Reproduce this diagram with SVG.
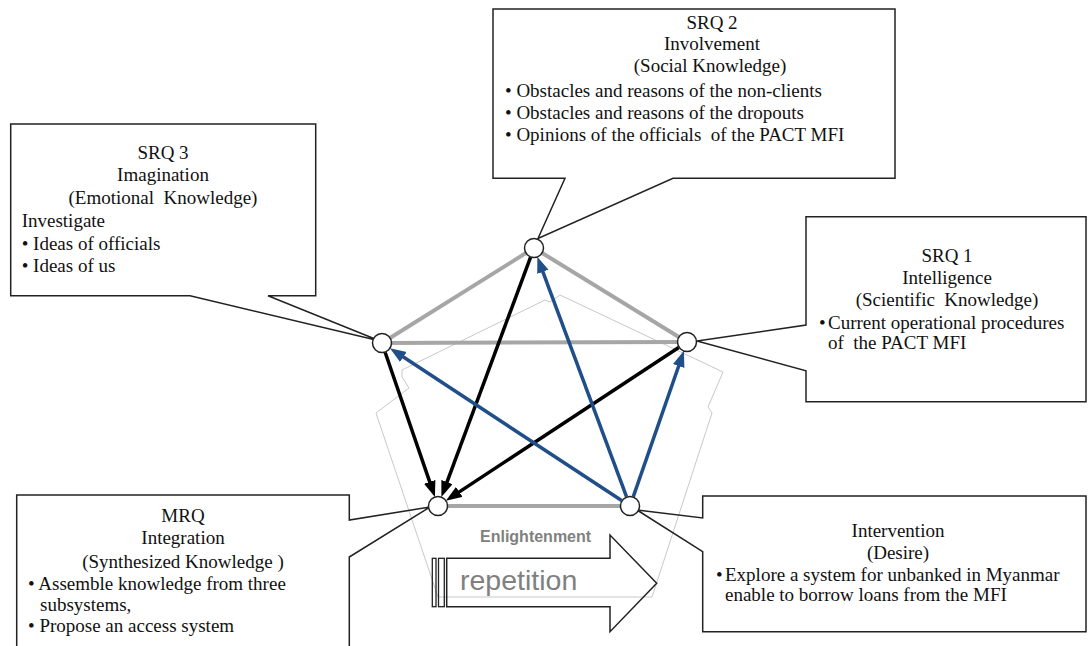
<svg xmlns="http://www.w3.org/2000/svg" width="1088" height="646" viewBox="0 0 1088 646">
<style>
.t{font-family:"Liberation Serif","Times New Roman",serif;font-size:19px;fill:#111}
.c{text-anchor:middle}
.box{fill:none;stroke:#222;stroke-width:1.5}
.gray{stroke:#a6a6a6;stroke-width:4;fill:none}
.blk{stroke:#000;stroke-width:3.5;fill:none}
.blu{stroke:#1f4e89;stroke-width:3.5;fill:none}
.node{fill:#fff;stroke:#222;stroke-width:1.5}
</style>
<defs>
<marker id="ab" markerUnits="userSpaceOnUse" markerWidth="17" markerHeight="13" refX="4" refY="6" orient="auto">
<path d="M0,0 L16,6 L0,12 Z" fill="#000"/>
</marker>
<marker id="au" markerUnits="userSpaceOnUse" markerWidth="17" markerHeight="13" refX="4" refY="6" orient="auto">
<path d="M0,0 L16,6 L0,12 Z" fill="#1f4e89"/>
</marker>
</defs>
<rect width="1088" height="646" fill="#fff"/>

<!-- faint background pentagon -->
<polygon points="545,300 550,302 560,295 723,372 708,407 712,413 652,597 438,597 376,413 409,388 402,377 402,370" fill="none" stroke="#c8c8c8" stroke-width="1"/>

<g id="connectors">
<line class="gray" x1="534" y1="248" x2="382" y2="343"/>
<line class="gray" x1="534" y1="248" x2="687" y2="342"/>
<line class="gray" x1="382" y1="343" x2="687" y2="342"/>
<line class="gray" x1="438" y1="506" x2="630" y2="506"/>
<line class="blk" x1="385.2" y1="352.5" x2="431.0" y2="485.6" marker-end="url(#ab)"/>
<line class="blk" x1="530.5" y1="257.4" x2="445.6" y2="485.8" marker-end="url(#ab)"/>
<line class="blk" x1="678.7" y1="347.5" x2="455.9" y2="494.1" marker-end="url(#ab)"/>
<line class="blu" x1="621.6" y1="500.5" x2="400.0" y2="354.8" marker-end="url(#au)"/>
<line class="blu" x1="626.5" y1="496.6" x2="541.5" y2="268.1" marker-end="url(#au)"/>
<line class="blu" x1="633.3" y1="496.6" x2="680.0" y2="362.2" marker-end="url(#au)"/>
</g>

<g id="srq3">
<path class="box" d="M10.7,124 H315.7 V295.7 H268 L380,341 L190,295.7 H10.7 Z"/>
<text class="t c" x="163" y="159">SRQ 3</text>
<text class="t c" x="163" y="181">Imagination</text>
<text class="t c" x="163" y="204" xml:space="preserve">(Emotional  Knowledge)</text>
<text class="t" x="21.7" y="227">Investigate</text>
<text class="t" x="21.7" y="249.5">• Ideas of officials</text>
<text class="t" x="21.7" y="272.3">• Ideas of us</text>
</g>

<g id="srq2">
<path class="box" d="M493,9 H895 V178.3 H673 L538,238.5 L565,178.3 H493 Z"/>
<text class="t c" x="712" y="29">SRQ 2</text>
<text class="t c" x="712" y="50">Involvement</text>
<text class="t c" x="710" y="72">(Social Knowledge)</text>
<text class="t" x="505" y="97">• Obstacles and reasons of the non-clients</text>
<text class="t" x="505" y="119">• Obstacles and reasons of the dropouts</text>
<text class="t" x="505" y="141" xml:space="preserve">• Opinions of the officials  of the PACT MFI</text>
</g>

<g id="srq1">
<path class="box" d="M806,216.7 H1086 V401.7 H806 V370.7 L697,341 L806,325 Z"/>
<text class="t c" x="947" y="262">SRQ 1</text>
<text class="t c" x="947" y="284">Intelligence</text>
<text class="t c" x="947" y="306" xml:space="preserve">(Scientific  Knowledge)</text>
<text class="t" x="819" y="328.5">•</text>
<text class="t" x="828" y="328.5">Current operational procedures</text>
<text class="t" x="828" y="349" xml:space="preserve">of  the PACT MFI</text>
</g>

<g id="mrq">
<path class="box" d="M16.7,650 V495 H349.3 V520 L430,507 L349.3,557 V650"/>
<text class="t c" x="183" y="522">MRQ</text>
<text class="t c" x="183" y="543.5">Integration</text>
<text class="t c" x="183" y="567.5">(Synthesized Knowledge )</text>
<text class="t" x="28" y="590">• Assemble knowledge from three</text>
<text class="t" x="40" y="610.5">subsystems,</text>
<text class="t" x="28" y="632">• Propose an access system</text>
</g>

<g id="intervention">
<path class="box" d="M702.7,496 H1086 V631.7 H702.7 V551.7 L637,510 L702.7,518 Z"/>
<text class="t c" x="898" y="537">Intervention</text>
<text class="t c" x="898" y="558.5">(Desire)</text>
<text class="t" x="716" y="581">•</text>
<text class="t" x="725" y="581">Explore a system for unbanked in Myanmar</text>
<text class="t" x="725" y="601">enable to borrow loans from the MFI</text>
</g>

<g id="nodes">
<circle id="n-srq2" class="node" cx="534" cy="248" r="9.5"/>
<circle id="n-srq3" class="node" cx="382" cy="343" r="9.5"/>
<circle id="n-srq1" class="node" cx="687" cy="342" r="9.5"/>
<circle id="n-mrq" class="node" cx="438" cy="506" r="9.5"/>
<circle id="n-int" class="node" cx="630" cy="506" r="9.5"/>
</g>

<g id="repetition-arrow">
<rect x="432.3" y="558.3" width="3.7" height="48.4" fill="none" stroke="#222" stroke-width="1.3"/>
<rect x="438.5" y="558.3" width="5.8" height="48.4" fill="none" stroke="#222" stroke-width="1.3"/>
<polygon points="446.7,558.3 610,558.3 610,535 656.7,583.3 610,631.7 610,606.7 446.7,606.7" fill="none" stroke="#222" stroke-width="1.5"/>
<text x="480" y="541.5" font-family="'Liberation Sans',Arial,sans-serif" font-size="16" font-weight="bold" fill="#808080">Enlightenment</text>
<text x="460" y="589.5" font-family="'Liberation Sans',Arial,sans-serif" font-size="28.5" fill="#808080">repetition</text>
</g>
</svg>
